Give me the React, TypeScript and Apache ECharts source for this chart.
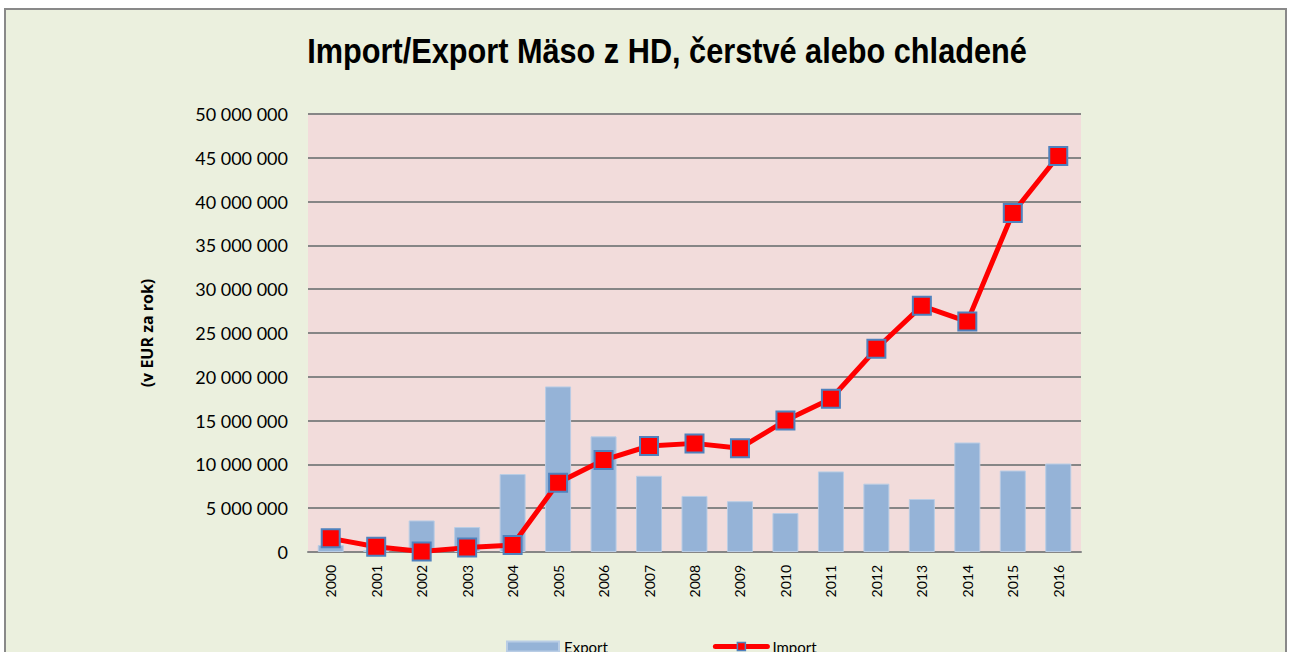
import React, { useEffect, useRef } from "react";
import * as echarts from "echarts";

const years = ["2000","2001","2002","2003","2004","2005","2006","2007","2008","2009","2010","2011","2012","2013","2014","2015","2016"];
const exportValues = [800000, 200000, 3600000, 2850000, 8900000, 18900000, 13200000, 8700000, 6400000, 5800000, 4450000, 9200000, 7800000, 6050000, 12500000, 9300000, 10100000];
const importValues = [1560000, 600000, 50000, 500000, 800000, 7900000, 10500000, 12100000, 12400000, 11850000, 15000000, 17500000, 23200000, 28100000, 26300000, 38700000, 45200000];
const titleText = "Import/Export Mäso z HD, čerstvé alebo chladené";
const yAxisTitle = "(v EUR za rok)";
const seriesNames = ["Export", "Import"];

const fmt = (v: number) => String(Math.round(v)).replace(/\B(?=(\d{3})+(?!\d))/g, " ");

export default function App() {
  const ref = useRef<HTMLDivElement>(null);
  useEffect(() => {
    document.body.style.margin = "0";
    const chart = echarts.init(ref.current!, null, { renderer: "svg" });
    chart.setOption({
      animation: false,
      backgroundColor: "#ffffff",
      graphic: [
        {
          type: "rect",
          z: -10,
          shape: { x: 5, y: 9, width: 1281, height: 700 },
          style: { fill: "#EBF0DE", stroke: "#898989", lineWidth: 2 },
        },
        {
          type: "text",
          z: 10,
          x: 667,
          y: 51,
          scaleX: 0.853,
          style: {
            text: titleText,
            fontFamily: "'Liberation Sans', Arial, sans-serif",
            fontWeight: "bold",
            fontSize: 36,
            fill: "#000000",
            align: "center",
            verticalAlign: "middle",
          },
        },
      ],
      grid: {
        left: 308,
        top: 114,
        right: 209,
        bottom: 100,
        show: true,
        backgroundColor: "#F2DCDB",
        borderWidth: 0,
      },
      legend: {
        left: 501,
        top: 634,
        itemGap: 105,
        itemWidth: 52,
        itemHeight: 10,
        textStyle: { fontFamily: "Lato, 'Open Sans', sans-serif", fontSize: 15, color: "#000" },
        data: [
          { name: seriesNames[0], icon: "rect" },
          {
            name: seriesNames[1],
            lineStyle: { width: 5, color: "#FF0000", cap: "round" },
            itemStyle: { color: "#FF0000", borderColor: "#4F81BD", borderWidth: 1.5 },
          },
        ],
      },
      xAxis: {
        type: "category",
        data: years,
        axisLine: { lineStyle: { color: "#868686", width: 2 } },
        axisTick: { show: false },
        axisLabel: {
          rotate: 90,
          margin: 13,
          fontFamily: "Lato, 'Open Sans', sans-serif",
          fontSize: 14,
          color: "#000",
        },
      },
      yAxis: {
        type: "value",
        min: 0,
        max: 50000000,
        interval: 5000000,
        name: yAxisTitle,
        nameLocation: "middle",
        nameGap: 153,
        nameRotate: 90,
        nameTextStyle: {
          fontFamily: "'Open Sans', Lato, sans-serif",
          fontWeight: "bold",
          fontSize: 16,
          color: "#000",
        },
        axisLine: { show: false },
        axisTick: { show: false },
        splitLine: { lineStyle: { color: "#868686", width: 2 } },
        axisLabel: {
          formatter: (v: number) => fmt(v),
          margin: 20,
          fontFamily: "Lato, 'Open Sans', sans-serif",
          fontSize: 18,
          color: "#000",
        },
      },
      series: [
        {
          name: seriesNames[0],
          type: "bar",
          data: exportValues,
          barWidth: 26,
          itemStyle: { color: "#95B3D7", borderColor: "#B9CDE5", borderWidth: 1 },
        },
        {
          name: seriesNames[1],
          type: "line",
          data: importValues,
          symbol: "rect",
          symbolSize: 18,
          lineStyle: { color: "#FF0000", width: 5 },
          itemStyle: { color: "#FF0000", borderColor: "#4F81BD", borderWidth: 2 },
        },
      ],
    });
    return () => chart.dispose();
  }, []);
  return <div ref={ref} style={{ position: "fixed", left: 0, top: 0, width: 1290, height: 652 }} />;
}
